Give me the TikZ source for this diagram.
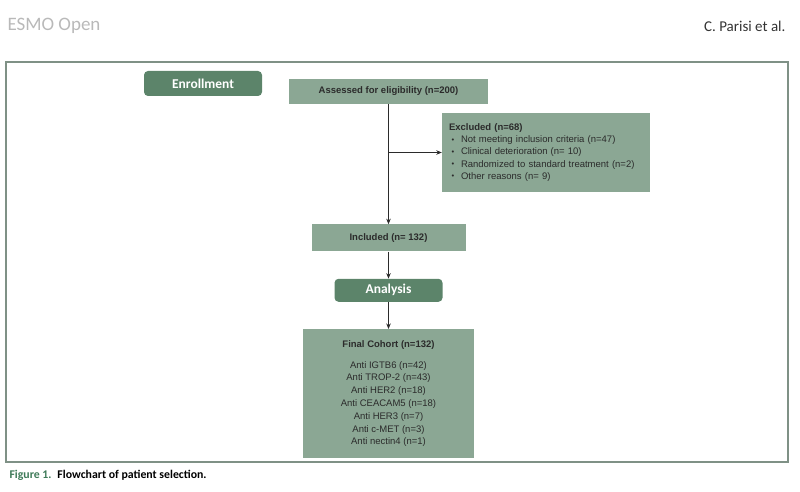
\documentclass[tikz,border=0pt]{standalone}
\usepackage{fontspec}
\setsansfont{Liberation Sans}
\newfontfamily\carlito{Carlito}
\usetikzlibrary{arrows.meta,positioning}

\definecolor{phasegreen}{HTML}{5C846A}
\definecolor{boxgreen}{HTML}{8BA794}
\definecolor{boxtext}{HTML}{2B2B2B}
\definecolor{framegray}{HTML}{7F9186}
\definecolor{figgreen}{HTML}{3E7A58}
\newcommand{\bul}{\makebox[12pt][l]{\hspace{2.5pt}\raisebox{0.6pt}{\scalebox{0.8}{\textbullet}}}}

\begin{document}
\begin{tikzpicture}[x=1pt, y=-1pt, >={Stealth[length=5.5pt,width=4.5pt]},
	   phase/.style={fill=phasegreen, rounded corners=4pt, text=white, inner sep=0pt,
	     font=\carlito\bfseries\fontsize{13.5}{15}\selectfont},
	   box/.style={fill=boxgreen, text=boxtext, align=center, inner sep=0pt,
	     font=\sffamily\fontsize{9.5}{12.8}\selectfont},
	   conn/.style={draw=boxtext, line width=0.8pt}]
	  \useasboundingbox (0,0) rectangle (800,492);
	  % page head and frame
	  \node[anchor=base west, text=gray!55, font=\carlito\fontsize{19}{22}\selectfont] (journal) at (4,31) {ESMO Open};
	  \node[anchor=base east, text=black!80, font=\carlito\fontsize{15}{18}\selectfont] (authors) at (789,32) {C. Parisi et al.};
	  \draw[framegray, line width=1.1pt] (6,62) rectangle (788,462);
	  % phases
	  \node[phase, minimum width=118pt, minimum height=25pt] (enrol) at (203,83.5) {Enrollment};
	  \node[box, minimum width=199pt, minimum height=25pt] (assess) at (388.5,91.5) {\bfseries Assessed for eligibility (n=200)};
	  \node[box, align=left, text width=194pt, inner xsep=7pt, minimum height=79pt, font=\sffamily\fontsize{9.5}{12.3}\selectfont] (excl) at (546,152.5)
	    {\textbf{Excluded (n=68)}\\
	     \bul Not meeting inclusion criteria (n=47)\\
	     \bul Clinical deterioration (n= 10)\\
	     \bul Randomized to standard treatment (n=2)\\
	     \bul Other reasons (n= 9)};
	  \node[box, minimum width=154pt, minimum height=27pt, below=120pt of assess] (incl) {\bfseries Included (n= 132)};
	  \node[phase, minimum width=108pt, minimum height=23pt, below=27pt of incl] (analysis) {Analysis};
	  \node[box, minimum width=171pt, minimum height=129pt, below=27pt of analysis] (cohort)
	    {\textbf{Final Cohort (n=132)}\\[8pt]
	     Anti IGTB6 (n=42)\\ Anti TROP-2 (n=43)\\ Anti HER2 (n=18)\\ Anti CEACAM5 (n=18)\\
	     Anti HER3 (n=7)\\ Anti c-MET (n=3)\\ Anti nectin4 (n=1)};
	  % connectors
	  \coordinate (branch) at (assess.south |- excl.west);
	  \draw[conn, ->] (assess) -- (incl);
	  \draw[conn, ->] (branch) -- (excl.west);
	  \draw[conn, ->] (incl) -- (analysis);
	  \draw[conn, ->] (analysis) -- (cohort);
	  % caption
	  \node[anchor=base west, font=\carlito\bfseries\fontsize{11.8}{14}\selectfont] (caption) at (6,478)
	    {\textcolor{figgreen}{Figure 1.}\enspace Flowchart of patient selection.};
	\end{tikzpicture}
\end{document}
